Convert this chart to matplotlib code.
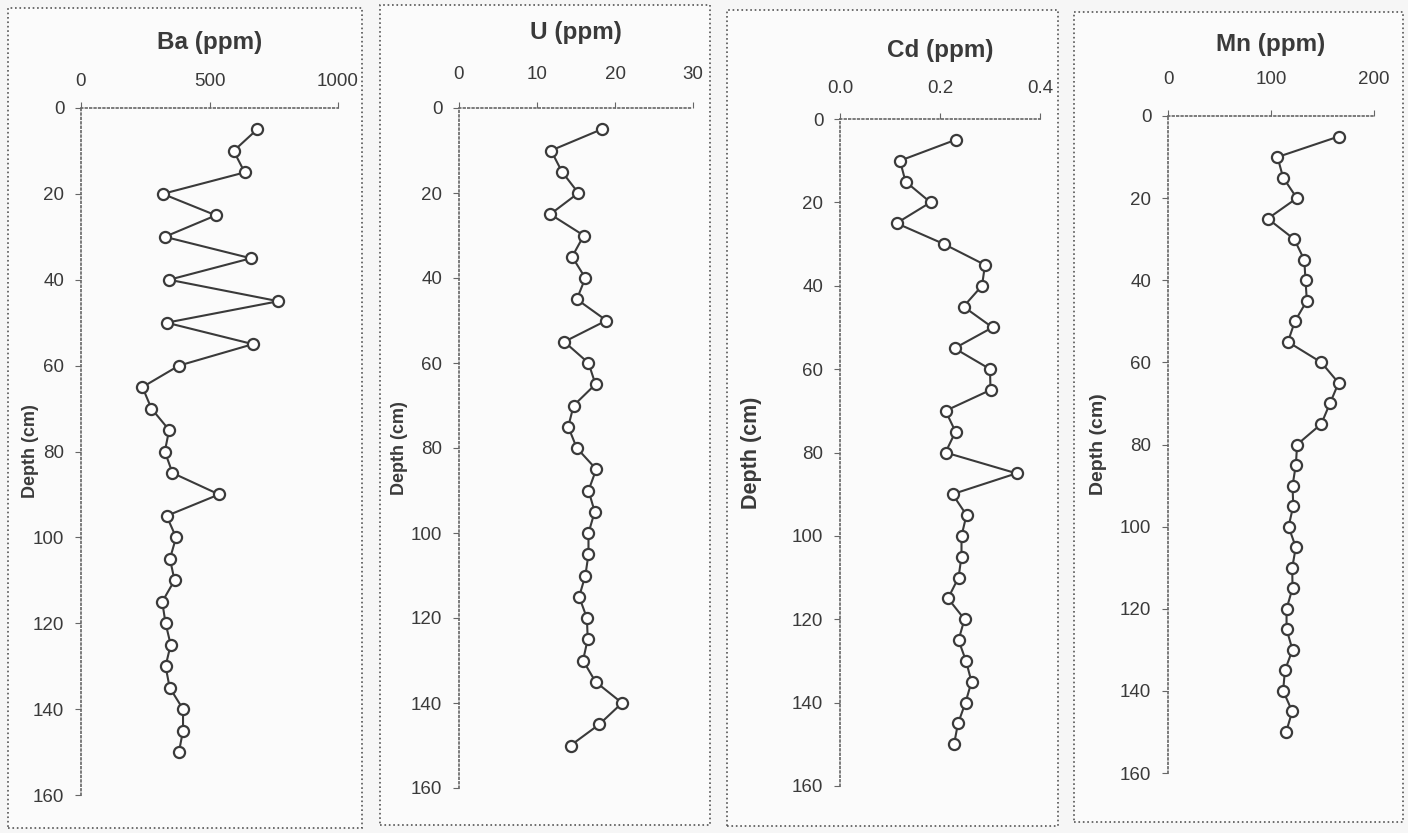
import matplotlib
matplotlib.use("Agg")
import matplotlib.pyplot as plt
from matplotlib.patches import Rectangle

plt.rcParams['font.family'] = ['Liberation Sans', 'DejaVu Sans']

# Depth of each sample (cm)
depth = [5, 10, 15, 20, 25, 30, 35, 40, 45, 50, 55, 60, 65, 70, 75,
         80, 85, 90, 95, 100, 105, 110, 115, 120, 125, 130, 135, 140, 145, 150]

# Concentrations
ba = [685, 594, 637, 318, 525, 326, 661, 343, 768, 333, 669, 381, 239, 274, 343,
      326, 356, 537, 333, 370, 346, 364, 316, 329, 349, 329, 345, 397, 397, 381]
u = [18.3, 11.8, 13.2, 15.3, 11.7, 16.0, 14.5, 16.2, 15.1, 18.9, 13.5, 16.6, 17.5, 14.7, 14.0,
     15.1, 17.6, 16.6, 17.4, 16.6, 16.6, 16.2, 15.4, 16.4, 16.5, 15.9, 17.5, 20.9, 18.0, 14.3]
cd = [0.231, 0.120, 0.131, 0.181, 0.113, 0.208, 0.290, 0.284, 0.247, 0.305, 0.229, 0.300, 0.301, 0.211, 0.231,
      0.211, 0.353, 0.225, 0.253, 0.243, 0.243, 0.237, 0.216, 0.249, 0.237, 0.252, 0.263, 0.251, 0.236, 0.228]
mn = [165.6, 106.3, 111.8, 125.1, 96.9, 122.5, 132.3, 133.5, 134.8, 123.2, 116.4, 148.8, 165.6, 157.2, 148.8,
      125.4, 124.1, 120.9, 121.6, 117.0, 124.1, 120.6, 120.9, 115.1, 115.1, 120.9, 113.5, 111.8, 120.6, 114.7]

W, H = 1408, 833
ink = '#3a3a3a'

fig = plt.figure(figsize=(W / 100, H / 100), dpi=100, facecolor='#f6f6f6')

# panel frames (pixels: left, top, right, bottom)
frames = [(8, 8, 362, 828), (380, 5, 710, 825), (727, 10, 1058, 826), (1074, 12, 1403, 822)]
for l, t, r, b in frames:
    fig.patches.append(Rectangle((l / W, 1 - b / H), (r - l) / W, (b - t) / H,
                                 transform=fig.transFigure, fill=True, facecolor='#fbfbfb',
                                 edgecolor='#555555', linestyle=':', linewidth=1.2, zorder=-10))

# axes boxes (pixels) and settings for each panel
panels = [
    dict(box=(81, 108, 338, 795), x=ba, lim=(0, 1000), ticks=[0, 500, 1000], fmt='%d',
         title='Ba (ppm)', ty=42, lab=13, labx=39, xpad=9),
    dict(box=(459, 108, 693, 788), x=u, lim=(0, 30), ticks=[0, 10, 20, 30], fmt='%d',
         title='U (ppm)', ty=33, lab=13, labx=408, xpad=14),
    dict(box=(840, 119, 1040, 786), x=cd, lim=(0, 0.4), ticks=[0.0, 0.2, 0.4], fmt='%.1f',
         title='Cd (ppm)', ty=50, lab=15.5, labx=762, xpad=12),
    dict(box=(1168, 116, 1374, 773), x=mn, lim=(0, 200), ticks=[0, 100, 200], fmt='%d',
         title='Mn (ppm)', ty=45, lab=14, labx=1107, xpad=16),
]

for p in panels:
    l, t, r, b = p['box']
    ax = fig.add_axes([l / W, 1 - b / H, (r - l) / W, (b - t) / H])
    ax.patch.set_alpha(0)
    ax.plot(p['x'], depth, color=ink, linewidth=1.5, marker='o', markersize=8,
            markerfacecolor='white', markeredgecolor=ink, markeredgewidth=1.6, clip_on=False)
    ax.set_xlim(p['lim'])
    ax.set_ylim(160, 0)
    ax.set_xticks(p['ticks'])
    ax.set_xticklabels([p['fmt'] % v for v in p['ticks']])
    ax.set_yticks(range(0, 161, 20))
    ax.xaxis.tick_top()
    for s in ['right', 'bottom']:
        ax.spines[s].set_visible(False)
    for s in ['left', 'top']:
        ax.spines[s].set_color('#666666')
        ax.spines[s].set_linestyle(':')
        ax.spines[s].set_linewidth(1.2)
    ax.tick_params(direction='out', length=4, width=0.8, color='#666666',
                   labelsize=13.5, labelcolor=ink, pad=8)
    ax.tick_params(axis='x', pad=p['xpad'])
    ax.set_ylabel('Depth (cm)', fontsize=p['lab'], fontweight='bold', color=ink)
    ax.yaxis.set_label_coords((p['labx'] - l) / (r - l), 0.5)
    fig.text((l + r) / 2 / W, 1 - p['ty'] / H, p['title'], ha='center', va='center',
             fontsize=17.5, fontweight='bold', color=ink)

fig.savefig('out.png', dpi=100, facecolor=fig.get_facecolor())
